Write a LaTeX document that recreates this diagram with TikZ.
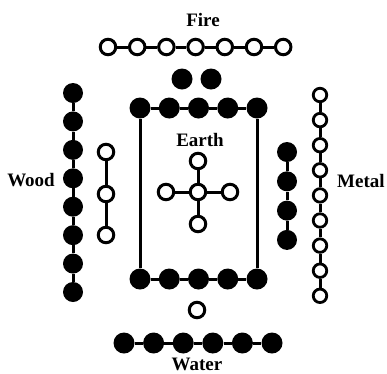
\documentclass[tikz,border=0pt]{standalone}
\usepackage{fontspec}
\setmainfont{Liberation Serif}
\begin{document}
\begin{tikzpicture}[x=1pt,y=-1pt,
  blk/.style={circle,fill=black,draw=none,inner sep=0pt,minimum size=21pt},
  blks/.style={circle,fill=black,draw=none,inner sep=0pt,minimum size=20pt},
  wht/.style={circle,fill=white,draw=black,line width=3pt,inner sep=0pt,minimum size=15.5pt},
  whts/.style={circle,fill=white,draw=black,line width=2.8pt,inner sep=0pt,minimum size=13.5pt},
  conn/.style={line width=3pt},
  lbl/.style={font=\fontsize{19}{20}\selectfont\bfseries,inner sep=0pt}]
\useasboundingbox[fill=white] (0,0) rectangle (387,373);
% Fire
\node[lbl] (firel) at (203,20) {Fire};
\foreach \i in {0,...,6} \node[wht] (f\i) at ({108+29.2*\i},47) {};
\foreach \i [evaluate=\i as \j using int(\i+1)] in {0,...,5} \draw[conn] (f\i) -- (f\j);
\node[blk] (d1) at (182,79) {};
\node[blk] (d2) at (211,79) {};
% Earth square
\foreach \i in {0,...,4} {
  \node[blk] (t\i) at ({140+29.25*\i},108) {};
  \node[blk] (b\i) at ({140+29.25*\i},279) {};
}
\foreach \i [evaluate=\i as \j using int(\i+1)] in {0,...,3} {
  \draw[conn] (t\i) -- (t\j);
  \draw[conn] (b\i) -- (b\j);
}
\draw[conn] (t0) -- (b0);
\draw[conn] (t4) -- (b4);
\node[lbl] (earthl) at (200,140) {Earth};
\node[wht] (c0) at (198,192) {};
\node[wht] (c1) at (198,161) {};
\node[wht] (c2) at (198,224) {};
\node[wht] (c3) at (166,192) {};
\node[wht] (c4) at (230,192) {};
\foreach \k in {1,...,4} \draw[conn] (c0) -- (c\k);
% Water
\node[wht] (wb) at (197,310) {};
\foreach \i in {0,...,5} \node[blk] (w\i) at ({124+29.6*\i},343) {};
\foreach \i [evaluate=\i as \j using int(\i+1)] in {0,...,4} \draw[conn] (w\i) -- (w\j);
\node[lbl] (waterl) at (197,364) {Water};
% Wood
\foreach \i in {0,...,7} \node[blks] (o\i) at (73,{93+28.43*\i}) {};
\foreach \i [evaluate=\i as \j using int(\i+1)] in {0,...,6} \draw[conn] (o\i) -- (o\j);
\node[lbl,anchor=east] (woodl) at (55,180) {Wood};
\node[wht] (p0) at (106,152) {};
\node[wht] (p1) at (106,194) {};
\node[wht] (p2) at (106,235) {};
\draw[conn] (p0) -- (p1);
\draw[conn] (p1) -- (p2);
% Metal
\foreach \i in {0,...,3} \node[blks] (m\i) at (287,{152+29.3*\i}) {};
\foreach \i [evaluate=\i as \j using int(\i+1)] in {0,...,2} \draw[conn] (m\i) -- (m\j);
\foreach \i in {0,...,8} \node[whts] (n\i) at (320,{95+25.1*\i}) {};
\foreach \i [evaluate=\i as \j using int(\i+1)] in {0,...,7} \draw[conn] (n\i) -- (n\j);
\node[lbl,anchor=west] (metall) at (337,181) {Metal};
\end{tikzpicture}
\end{document}
